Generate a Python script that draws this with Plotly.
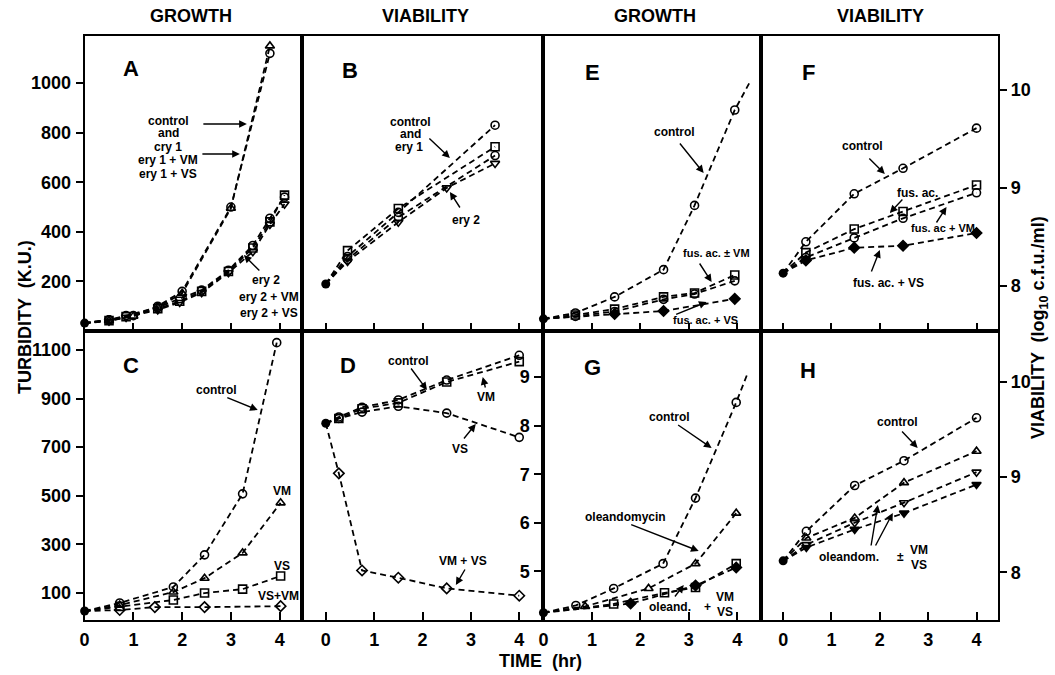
import plotly.graph_objects as go

W, H = 1055, 675
FONT = "Liberation Sans"

# ---------------- data ----------------
time_ticks = [0, 1, 2, 3, 4]

# Panel A  (growth, turbidity K.U.)
A_x_upper = [0, 0.5, 1.0, 1.5, 2.0, 3.0, 3.8]
A_control = [32, 45, 62, 100, 160, 500, 1120]
A_ery1 = [32, 42, 60, 95, 152, 495, 1150]
A_x_lower = [0, 0.5, 0.85, 1.5, 1.95, 2.4, 2.95, 3.45, 3.8, 4.1]
A_ery2 = [32, 45, 62, 95, 130, 165, 245, 345, 455, 540]
A_ery2_VM = [32, 42, 58, 90, 120, 160, 240, 335, 440, 548]
A_ery2_VS = [32, 40, 55, 85, 115, 155, 235, 320, 430, 512]

# Panel B  (viability, log10 cfu/ml)
B_x1 = [0, 0.45, 1.5, 3.5]
B_control = [8.02, 8.30, 8.75, 9.64]
B_ery1 = [8.02, 8.36, 8.79, 9.42]
B_ery1_VM = [8.02, 8.27, 8.70, 9.33]
B_x2 = [0, 0.45, 1.5, 2.5, 3.5]
B_ery2 = [8.02, 8.25, 8.65, 9.00, 9.25]

# Panel E  (growth)
E_x_control = [0, 0.66, 1.47, 2.48, 3.12, 3.95, 4.26]
E_control = [4.25, 4.37, 4.70, 5.26, 6.58, 8.54, 9.11]
E_x_fus = [0, 0.66, 1.47, 2.48, 3.12, 3.95]
E_fus = [4.25, 4.33, 4.45, 4.70, 4.78, 5.15]
E_fus_VM = [4.25, 4.30, 4.40, 4.65, 4.76, 5.03]
E_x_VS = [0, 1.47, 2.48, 3.95]
E_fus_VS = [4.25, 4.35, 4.41, 4.66]

# Panel F  (viability)
F_x = [0, 0.47, 1.47, 2.48, 4.0]
F_control = [8.13, 8.45, 8.94, 9.20, 9.61]
F_fus = [8.13, 8.34, 8.58, 8.76, 9.03]
F_fus_VM = [8.13, 8.29, 8.49, 8.69, 8.95]
F_fus_VS = [8.13, 8.26, 8.39, 8.41, 8.54]

# Panel C  (growth)
C_x_control = [0, 0.72, 1.82, 2.46, 3.24, 3.94]
C_control = [26, 59, 125, 257, 508, 1130]
C_x = [0, 0.72, 1.82, 2.46, 3.24, 4.02]
C_VM = [26, 50, 104, 161, 265, 471]
C_VS = [26, 45, 71, 100, 116, 170]
C_x_VSVM = [0, 0.72, 1.44, 2.46, 4.02]
C_VSVM = [26, 30, 42, 42, 46]

# Panel D  (viability)
D_x = [0, 0.27, 0.75, 1.5, 2.5, 4.0]
D_control = [8.05, 8.18, 8.38, 8.53, 8.94, 9.45]
D_VM = [8.05, 8.15, 8.35, 8.47, 8.90, 9.32]
D_VS = [8.05, 8.15, 8.28, 8.40, 8.26, 7.76]
D_VMVS = [8.05, 7.02, 5.02, 4.87, 4.65, 4.50]

# Panel G  (growth)
G_x_control = [0, 0.67, 1.45, 2.47, 3.14, 3.98, 4.2]
G_control = [4.15, 4.30, 4.65, 5.16, 6.51, 8.48, 9.04]
G_x_ol = [0, 0.86, 2.17, 3.14, 3.98]
G_ol = [4.15, 4.28, 4.65, 5.16, 6.20]
G_x_olVM = [0, 1.45, 2.5, 3.14, 3.98]
G_olVM = [4.15, 4.33, 4.56, 4.67, 5.16]
G_x_olVS = [0, 1.8, 3.14, 3.98]
G_olVS = [4.15, 4.34, 4.71, 5.08]

# Panel H  (viability)
H_x = [0, 0.48, 1.48, 2.5, 4.0]
H_control = [8.12, 8.43, 8.91, 9.17, 9.62]
H_ol = [8.12, 8.36, 8.57, 8.94, 9.27]
H_olVM = [8.12, 8.29, 8.52, 8.73, 9.05]
H_olVS = [8.12, 8.26, 8.45, 8.62, 8.92]

turb_ticks_top = [200, 400, 600, 800, 1000]
turb_ticks_bottom = [100, 300, 500, 700, 900, 1100]
log_ticks_mid = [5, 6, 7, 8, 9]
log_ticks_right = [8, 9, 10]

# ---------------- figure ----------------
fig = go.Figure()
DASH = "6px,4px"


def series(ax, xs, ys, symbol, ext=False, size=8):
    n = len(xs)
    sizes = [0] + [size] * (n - 1)
    if ext:
        sizes[-1] = 0
    fig.add_trace(go.Scatter(
        x=xs, y=ys, xaxis="x" + ax, yaxis="y" + ax, mode="lines+markers",
        line=dict(color="black", width=1.8, dash=DASH),
        marker=dict(symbol=symbol, size=sizes, color="black", opacity=1,
                    line=dict(color="black", width=1.6)),
        opacity=1, cliponaxis=False, showlegend=False, hoverinfo="skip"))


def start(ax, xs, ys):
    fig.add_trace(go.Scatter(
        x=[xs[0]], y=[ys[0]], xaxis="x" + ax, yaxis="y" + ax, mode="markers",
        marker=dict(symbol="circle", size=9, color="black", opacity=1),
        cliponaxis=False, showlegend=False, hoverinfo="skip"))


# A
series("1", A_x_upper, A_control, "circle-open")
series("1", A_x_upper, A_ery1, "triangle-up-open")
series("1", A_x_lower, A_ery2, "circle-open")
series("1", A_x_lower, A_ery2_VM, "square-open")
series("1", A_x_lower, A_ery2_VS, "triangle-down-open")
start("1", A_x_upper, A_control)
# B
series("2", B_x1, B_control, "circle-open")
series("2", B_x1, B_ery1, "square-open")
series("2", B_x1, B_ery1_VM, "circle-open")
series("2", B_x2, B_ery2, "triangle-down-open")
start("2", B_x1, B_control)
# E
series("3", E_x_control, E_control, "circle-open", ext=True)
series("3", E_x_fus, E_fus, "square-open")
series("3", E_x_fus, E_fus_VM, "circle-open")
series("3", E_x_VS, E_fus_VS, "diamond")
start("3", E_x_control, E_control)
# F
series("4", F_x, F_control, "circle-open")
series("4", F_x, F_fus, "square-open")
series("4", F_x, F_fus_VM, "circle-open")
series("4", F_x, F_fus_VS, "diamond")
start("4", F_x, F_control)
# C
series("5", C_x_control, C_control, "circle-open")
series("5", C_x, C_VM, "triangle-up-open")
series("5", C_x, C_VS, "square-open")
series("5", C_x_VSVM, C_VSVM, "diamond-open")
start("5", C_x, C_control)
# D
series("6", D_x, D_control, "circle-open")
series("6", D_x, D_VM, "square-open")
series("6", D_x, D_VS, "circle-open")
series("6", D_x, D_VMVS, "diamond-open")
start("6", D_x, D_control)
# G
series("7", G_x_control, G_control, "circle-open", ext=True)
series("7", G_x_ol, G_ol, "triangle-up-open")
series("7", G_x_olVM, G_olVM, "square-open")
series("7", G_x_olVS, G_olVS, "diamond")
start("7", G_x_control, G_control)
# H
series("8", H_x, H_control, "circle-open")
series("8", H_x, H_ol, "triangle-up-open")
series("8", H_x, H_olVM, "triangle-down-open")
series("8", H_x, H_olVS, "triangle-down")
start("8", H_x, H_control)

# ---------------- axes ----------------
TF = dict(family=FONT, size=18, color="black", weight="bold")
colx = [(80, 298), (298, 541), (541, 760), (760, 998)]
rowy = [(36, 331), (331, 620)]


def dom_x(c):
    return [colx[c][0] / W, colx[c][1] / W]


def dom_y(r):
    return [1 - rowy[r][1] / H, 1 - rowy[r][0] / H]


def xax(c, rng, labels):
    return dict(domain=dom_x(c), range=rng, showline=True, linewidth=2,
                linecolor="black", mirror=True, ticks="inside", ticklen=8,
                tickwidth=2, tickcolor="black", tickvals=time_ticks,
                showticklabels=labels, tickfont=TF, showgrid=False,
                zeroline=False, ticklabelstandoff=2)


def yax(r, rng, anchor, tickvals=None, side="left"):
    d = dict(domain=dom_y(r), range=rng, showline=True, linewidth=2,
             linecolor="black", mirror=True, showgrid=False, zeroline=False,
             anchor=anchor, side=side)
    if tickvals:
        d.update(ticks="outside", ticklen=7, tickwidth=2, tickcolor="black",
                 tickvals=tickvals, showticklabels=True, tickfont=TF,
                 ticklabelstandoff=0 if side == "right" else 1)
    else:
        d.update(ticks="", showticklabels=False)
    return d


xr = {0: [0, 4.45], 1: [-0.5, 4.5], 2: [0, 4.5], 3: [-0.45, 4.45]}
layout = dict(
    width=W, height=H, margin=dict(l=0, r=0, t=0, b=0),
    paper_bgcolor="white", plot_bgcolor="white", showlegend=False,
    xaxis=xax(0, xr[0], False), yaxis=yax(0, [0, 1190], "x", turb_ticks_top),
    xaxis2=xax(1, xr[1], False), yaxis2=yax(0, [7.54, 10.55], "x2"),
    xaxis3=xax(2, xr[2], False), yaxis3=yax(0, [4, 10.06], "x3"),
    xaxis4=xax(3, xr[3], False),
    yaxis4=yax(0, [7.54, 10.55], "x4", log_ticks_right, side="right"),
    xaxis5=xax(0, xr[0], True), yaxis5=yax(1, [-11, 1178], "x5", turb_ticks_bottom),
    xaxis6=xax(1, xr[1], True), yaxis6=yax(1, [4, 9.95], "x6"),
    xaxis7=xax(2, xr[2], True), yaxis7=yax(1, [4, 9.95], "x7", log_ticks_mid),
    xaxis8=xax(3, xr[3], True),
    yaxis8=yax(1, [7.5, 10.53], "x8", log_ticks_right, side="right"),
)
for i in range(2, 9):
    layout["xaxis%d" % i]["anchor"] = "y%d" % i
layout["xaxis"]["anchor"] = "y"
fig.update_layout(**layout)

# ---------------- text ----------------
ann = []


def text(x, y, s, size=12, angle=0):
    ann.append(dict(x=x / W, y=1 - y / H, xref="paper", yref="paper", text=s,
                    showarrow=False, textangle=angle, xanchor="center",
                    yanchor="middle",
                    font=dict(family=FONT, size=size, color="black", weight="bold")))


def arrow(x0, y0, x1, y1):
    ann.append(dict(x=x1 / W, y=1 - y1 / H, xref="paper", yref="paper", text="",
                    ax=x0 - x1, ay=y0 - y1, axref="pixel", ayref="pixel",
                    showarrow=True, arrowhead=2, arrowsize=1.1, arrowwidth=1.4,
                    arrowcolor="black"))


# column titles
text(187, 16, "GROWTH", 18)
text(422, 16, "VIABILITY", 18)
text(653, 16, "GROWTH", 18)
text(880, 16, "VIABILITY", 18)
# axis titles
text(20, 317, "TURBIDITY  (K.U.)", 18, -90)
text(1040, 328, "VIABILITY  (log<sub>10</sub> c.f.u./ml)", 18, -90)
text(538, 661, "TIME  (hr)", 18)
# panel letters
for lx, ly, s in [(127, 68, "A"), (347, 70, "B"), (590, 72, "E"), (807, 72, "F"),
                  (127, 365, "C"), (345, 365, "D"), (590, 367, "G"), (807, 370, "H")]:
    text(lx, ly, s, 22)

# A
for ty, s in [(121, "control"), (133, "and"), (147, "cry 1"), (160, "ery 1 + VM"), (174, "ery 1 + VS")]:
    text(164, ty, s, 12)
arrow(198, 124, 243, 124)
arrow(197, 154, 236, 154)
text(262, 280, "ery 2", 12)
text(265, 297, "ery 2 + VM", 12)
text(265, 313, "ery 2 + VS", 12)
arrow(257, 272, 240, 255)
# B
text(407, 122, "control", 12)
text(407, 134, "and", 12)
text(406, 147, "ery 1", 12)
arrow(425, 137, 447, 158)
text(463, 220, "ery 2", 12)
arrow(458, 209, 447, 192)
# E
text(673, 132, "control", 12)
arrow(677, 142, 702, 173)
text(715, 253, "fus. ac. ± VM", 11)
arrow(697, 262, 710, 282)
text(704, 320, "fus. ac. + VS", 11)
arrow(673, 315, 705, 302)
# F
text(862, 146, "control", 12)
arrow(867, 157, 884, 174)
text(917, 193, "fus. ac.", 12)
arrow(903, 198, 889, 213)
text(942, 228, "fus. ac + VM", 11)
arrow(935, 224, 946, 207)
text(888, 283, "fus. ac. + VS", 12)
arrow(870, 273, 879, 250)
# C
text(213, 390, "control", 12)
arrow(222, 397, 254, 410)
text(278, 491, "VM", 12)
text(278, 566, "VS", 12)
text(275, 596, "VS+VM", 12)
# D
text(405, 361, "control", 12)
arrow(407, 367, 424, 390)
text(483, 397, "VM", 12)
arrow(483, 389, 480, 377)
text(457, 449, "VS", 12)
arrow(460, 440, 473, 424)
text(460, 561, "VM + VS", 12)
arrow(463, 568, 453, 585)
# G
text(668, 417, "control", 12)
arrow(675, 424, 710, 448)
text(623, 517, "oleandomycin", 12)
arrow(628, 524, 697, 551)
text(668, 607, "oleand.", 12)
text(706, 607, "+", 12)
text(723, 597, "VM", 12)
text(723, 612, "VS", 12)
arrow(672, 598, 682, 585)
# H
text(897, 422, "control", 12)
arrow(900, 430, 917, 448)
text(848, 557, "oleandom.", 12)
text(900, 557, "±", 12)
text(918, 550, "VM", 12)
text(918, 565, "VS", 12)
arrow(870, 547, 877, 505)
arrow(874, 547, 892, 513)

fig.update_layout(annotations=ann)
fig.write_html("out.html")
